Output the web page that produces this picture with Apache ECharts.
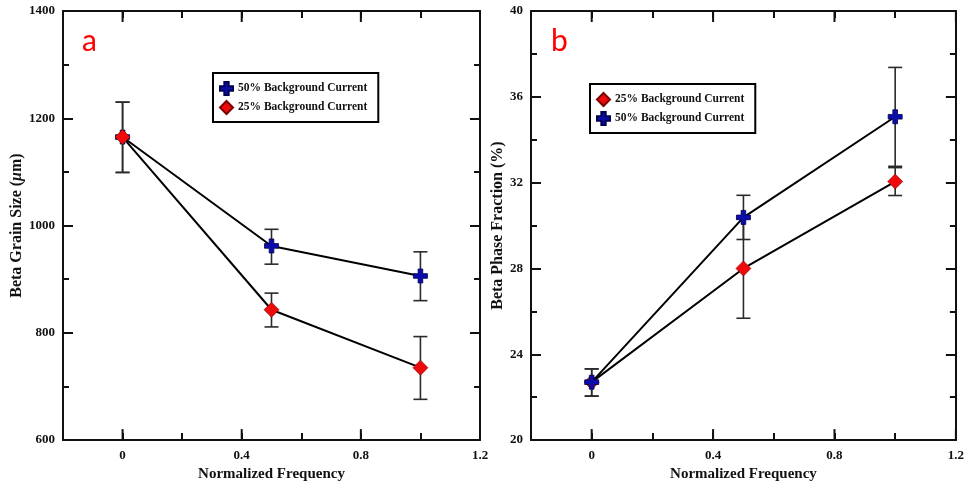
<!DOCTYPE html>
<html><head><meta charset="utf-8">
<script src="https://cdn.jsdelivr.net/npm/echarts@6/dist/echarts.min.js"></script>
<style>html,body{margin:0;padding:0;background:#fff}#c{width:967px;height:487px}</style>
</head><body><div id="c"></div>
<script>
// ---- data ----
const freq = [0, 0.5, 1.0];
const xMajorTicks = [0, 0.4, 0.8, 1.2];
const grain50 = [1165, 962, 906];
const grain50Lo = [1099, 928, 860];
const grain50Hi = [1230, 993, 951];
const grain25 = [1165, 843, 735];
const grain25Lo = [1099, 811, 676];
const grain25Hi = [1230, 874, 793];
const beta25 = [22.7, 28.0, 32.05];
const beta25Lo = [22.05, 25.68, 31.4];
const beta25Hi = [23.32, 30.32, 32.7];
const beta50 = [22.7, 30.38, 35.07];
const beta50Lo = [22.05, 29.35, 32.76];
const beta50Hi = [23.32, 31.41, 37.37];
const name50 = '50% Background Current';
const name25 = '25% Background Current';

const FONT = 'Liberation Serif';
const plusPath = 'path://M4,0L8,0L8,4L12,4L12,8L8,8L8,12L4,12L4,8L0,8L0,4L4,4Z';
const blue = '#0c0cac', red = '#ee0a0a';

function pts(xs, ys){ return xs.map((x,i)=>[x, ys[i]]); }
function bars(xs, lo, hi){ return xs.map((x,i)=>[x, lo[i], hi[i]]); }

function errRender(params, api){
  const x = api.value(0);
  const pLo = api.coord([x, api.value(1)]), pHi = api.coord([x, api.value(2)]);
  const w = 7;
  const st = {stroke:'#2a2a2a', lineWidth:1.6, fill:null};
  return {type:'group', children:[
    {type:'line', shape:{x1:pLo[0],y1:pLo[1],x2:pHi[0],y2:pHi[1]}, style:st},
    {type:'line', shape:{x1:pLo[0]-w,y1:pLo[1],x2:pLo[0]+w,y2:pLo[1]}, style:st},
    {type:'line', shape:{x1:pHi[0]-w,y1:pHi[1],x2:pHi[0]+w,y2:pHi[1]}, style:st}
  ]};
}
function majorTickRender(params, api){
  const p = api.coord([api.value(0), 0]);
  const cs = params.coordSys;
  const L = 11;
  const st = {stroke:'#111', lineWidth:2};
  const yb = cs.y + cs.height, yt = cs.y;
  return {type:'group', children:[
    {type:'line', shape:{x1:p[0],y1:yb,x2:p[0],y2:yb-L}, style:st},
    {type:'line', shape:{x1:p[0],y1:yt,x2:p[0],y2:yt+L}, style:st}
  ]};
}

function xAx(gi, pos){
  const bottom = pos === 'bottom';
  return {
    type:'value', gridIndex:gi, position:pos, min:-0.2, max:1.2, interval:0.2,
    axisLine:{show:true, onZero:false, lineStyle:{color:'#111', width:2}},
    axisTick:{show:true, inside:true, length:7, lineStyle:{color:'#111', width:2}},
    splitLine:{show:false},
    axisLabel:{show:bottom, margin:9, color:'#111', fontFamily:FONT, fontWeight:'bold', fontSize:13,
      formatter:(v)=>{ const k = v/0.4; return (v >= -1e-9 && Math.abs(k-Math.round(k))<1e-6) ? String(Math.round(v*10)/10) : ''; }},
    name: bottom ? 'Normalized Frequency' : '', nameLocation:'middle', nameGap:23,
    nameTextStyle:{color:'#111', fontFamily:FONT, fontWeight:'bold', fontSize:15}
  };
}
function yAx(gi, pos, min, max, interval, name, gap){
  const left = pos === 'left';
  return {
    type:'value', gridIndex:gi, position:pos, min:min, max:max, interval:interval,
    axisLine:{show:true, onZero:false, lineStyle:{color:'#111', width:2}},
    axisTick:{show:true, inside:true, length:10, lineStyle:{color:'#111', width:2}},
    minorTick:{show:true, splitNumber:2, length:6, lineStyle:{color:'#111', width:2}},
    splitLine:{show:false}, minorSplitLine:{show:false},
    axisLabel:{show:left, margin:8, color:'#111', fontFamily:FONT, fontWeight:'bold', fontSize:13,
      formatter:(v)=>String(v)},
    name: left ? name : '', nameLocation:'middle', nameGap:gap,
    nameTextStyle:{color:'#111', fontFamily:FONT, fontWeight:'bold', fontSize:16,
      rich:{i:{fontStyle:'italic', fontFamily:FONT, fontWeight:'bold', fontSize:16, color:'#111'}}}
  };
}

function lineSeries(name, xi, yi, data, isPlus, z){
  return {
    name:name, type:'line', xAxisIndex:xi, yAxisIndex:yi, data:data, z:z,
    symbol: isPlus ? plusPath : 'diamond', symbolSize: isPlus ? 14 : 15,
    lineStyle:{color:'#000', width:2},
    itemStyle:{color: isPlus ? blue : red, borderColor: isPlus ? '#000050' : '#7a0000', borderWidth: isPlus ? 0.8 : 0.6},
    emphasis:{disabled:true}, animation:false
  };
}
function errSeries(xi, yi, data){
  return {type:'custom', xAxisIndex:xi, yAxisIndex:yi, renderItem:errRender, data:data, z:1,
    encode:{x:0, y:[1,2]}, silent:true, animation:false};
}
function tickSeries(xi, yi){
  return {type:'custom', xAxisIndex:xi, yAxisIndex:yi, renderItem:majorTickRender,
    data:xMajorTicks.map(v=>[v]), encode:{x:0}, z:5, silent:true, animation:false, clip:false};
}

const legendBase = {
  orient:'vertical', itemWidth:13, itemHeight:13, itemGap:4,
  padding:[8, 11, 7, 6], borderColor:'#000', borderWidth:2, backgroundColor:'#fff',
  textStyle:{color:'#111', fontFamily:FONT, fontWeight:'bold', fontSize:11.5},
  selectedMode:false
};

const option = {
  animation:false,
  backgroundColor:'#fff',
  grid:[
    {left:63, top:11, width:417, height:432, show:false},
    {left:531, top:11, width:429, height:432, show:false}
  ],
  xAxis:[xAx(0,'bottom'), xAx(0,'top'), xAx(1,'bottom'), xAx(1,'top')],
  yAxis:[
    yAx(0,'left',600,1400,200,'Beta Grain Size ({i|μ}m)',35),
    yAx(0,'right',600,1400,200,'',0),
    yAx(1,'left',20,40,4,'Beta Phase Fraction (%)',24),
    yAx(1,'right',20,40,4,'',0)
  ],
  legend:[
    Object.assign({}, legendBase, {left:213, top:73,
      data:[{name:name50, icon:plusPath}, {name:name25, icon:'diamond'}]}),
    Object.assign({}, legendBase, {left:590, top:84,
      data:[{name:name25, icon:'diamond'}, {name:name50, icon:plusPath}]})
  ],
  graphic:[
    {type:'text', left:82, top:26, style:{text:'a', fill:'#ff0000', font:'30px Lato'}},
    {type:'text', left:551, top:26, style:{text:'b', fill:'#ff0000', font:'30px Lato'}}
  ],
  series:[
    errSeries(0,0,bars(freq, grain50Lo, grain50Hi)),
    errSeries(0,0,bars(freq, grain25Lo, grain25Hi)),
    lineSeries(name50,0,0,pts(freq, grain50), true, 3),
    lineSeries(name25,0,0,pts(freq, grain25), false, 4),
    tickSeries(0,0),
    errSeries(2,2,bars(freq, beta25Lo, beta25Hi)),
    errSeries(2,2,bars(freq, beta50Lo, beta50Hi)),
    lineSeries(name25,2,2,pts(freq, beta25), false, 3),
    lineSeries(name50,2,2,pts(freq, beta50), true, 4),
    tickSeries(2,2)
  ]
};
const chart = echarts.init(document.getElementById('c'), null, {renderer:'canvas'});
chart.setOption(option);
</script>
</body></html>
